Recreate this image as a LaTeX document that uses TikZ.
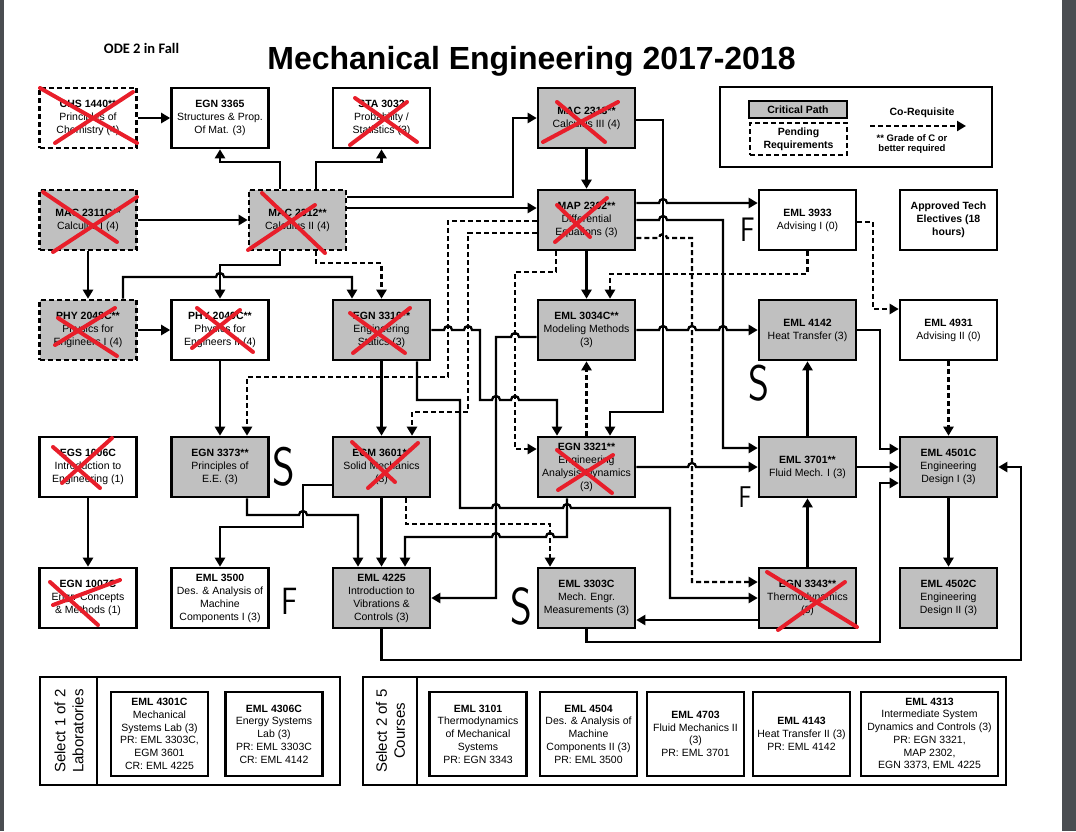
\documentclass[tikz,border=0pt]{standalone}
\usepackage{fontspec}
\setmainfont{Liberation Sans}
\newfontfamily\notefont{Carlito}
\usetikzlibrary{arrows.meta}
\definecolor{critgray}{RGB}{192,192,192}
\definecolor{penred}{RGB}{232,30,42}
\definecolor{framegray}{RGB}{74,77,81}
% line hops on horizontal runs
\newcommand{\hopr}[2]{-- ({#1-4},#2) arc[start angle=180,end angle=0,radius=4pt]}
\newcommand{\hopl}[2]{-- ({#1+4},#2) arc[start angle=0,end angle=180,radius=4pt]}

\begin{document}
\begin{tikzpicture}[x=1pt,y=-1pt,
    course/.style={draw,line width=2.6pt,minimum width=97pt,minimum height=60pt,inner sep=1pt,align=center,font=\fontsize{10.5}{13}\selectfont},
    crit/.style={course,fill=critgray},
    pend/.style={dash pattern=on 5pt off 3pt},
    elective/.style={course,minimum height=84pt,font=\fontsize{10.5}{12.7}\selectfont},
    panel/.style={draw,line width=2pt,minimum height=108pt,inner sep=0pt},
    pre/.style={line width=2.3pt,-{Triangle[length=9pt,width=10pt]}},
    coreq/.style={pre,dash pattern=on 5pt off 3pt},
    redx/.style={penred,line width=4pt,line cap=round},
    hand/.style={inner sep=0pt,xscale=0.8}]
  \useasboundingbox (0,0) rectangle (1076,831);
  \fill[white] (0,0) rectangle (1076,831);
  \fill[framegray] (0,0) rectangle (4,831);
  \fill[framegray] (1062,0) rectangle (1076,831);

  \node[font=\notefont\bfseries\fontsize{14.5}{16}\selectfont,anchor=base] (note) at (141.5,53) {ODE 2 in Fall};
  \node[font=\bfseries\fontsize{32}{36}\selectfont,anchor=base] (title) at (531.5,69) {Mechanical Engineering 2017-2018};

  % legend
  \node[draw,line width=1.8pt,minimum width=272pt,minimum height=80pt] (legend) at (856,127) {};
  \node[draw,line width=2.4pt,fill=critgray,minimum width=98pt,minimum height=17pt,inner sep=0pt,font=\bfseries\fontsize{10.5}{12}\selectfont] (keycrit) at (798,109.5) {Critical Path};
  \node[draw,pend,line width=2.4pt,minimum width=97pt,minimum height=32pt,inner sep=0pt,align=center,font=\bfseries\fontsize{10.5}{13}\selectfont] (keypend) at (798.5,139) {Pending\\Requirements};
  \node[font=\bfseries\fontsize{10.5}{12}\selectfont] (keyco) at (922,113) {Co-Requisite};
  \coordinate (keya) at (870,126);
  \coordinate (keyb) at (966,126);
  \draw[coreq] (keya) -- (keyb);
  \node[align=center,font=\bfseries\fontsize{9.5}{9.5}\selectfont] (keygrade) at (912,144) {** Grade of C or\\better required};

  % row 1
  \node[course,pend] (chs1440) at (88,118) {\textbf{CHS 1440**}\\Principles of\\Chemistry (4)};
  \node[course] (egn3365) at (220,118) {\textbf{EGN 3365}\\Structures \& Prop.\\Of Mat. (3)};
  \node[course] (sta3032) at (381.5,118) {\textbf{STA 3032}\\Probability /\\Statistics (3)};
  \node[crit] (mac2313) at (586.5,118) {\textbf{MAC 2313**}\\Calculus III (4)};
  % row 2
  \node[crit,pend] (mac2311) at (88,220) {\textbf{MAC 2311C**}\\Calculus I (4)};
  \node[crit,pend] (mac2312) at (297.5,220) {\textbf{MAC 2312**}\\Calculus II (4)};
  \node[crit] (map2302) at (586.5,220) {\textbf{MAP 2302**}\\Differential\\Equations (3)};
  \node[course] (eml3933) at (807.5,220) {\textbf{EML 3933}\\Advising I (0)};
  \node[course,font=\bfseries\fontsize{10.5}{13}\selectfont] (techelec) at (948.5,220) {Approved Tech\\Electives (18\\hours)};
  % row 3
  \node[crit,pend] (phy2048) at (88,330) {\textbf{PHY 2048C**}\\Physics for\\Engineers I (4)};
  \node[course] (phy2049) at (220,330) {\textbf{PHY 2049C**}\\Physics for\\Engineers II (4)};
  \node[crit] (egn3310) at (381.5,330) {\textbf{EGN 3310**}\\Engineering\\Statics (3)};
  \node[crit] (eml3034) at (586.5,330) {\textbf{EML 3034C**}\\Modeling Methods\\(3)};
  \node[crit] (eml4142) at (807.5,330) {\textbf{EML 4142}\\Heat Transfer (3)};
  \node[course] (eml4931) at (948.5,330) {\textbf{EML 4931}\\Advising II (0)};
  % row 4
  \node[course] (egs1006) at (88,467) {\textbf{EGS 1006C}\\Introduction to\\Engineering (1)};
  \node[crit] (egn3373) at (220,467) {\textbf{EGN 3373**}\\Principles of\\E.E. (3)};
  \node[crit] (egm3601) at (381.5,467) {\textbf{EGM 3601**}\\Solid Mechanics\\(3)};
  \node[crit] (egn3321) at (586.5,467) {\textbf{EGN 3321**}\\Engineering\\Analysis-Dynamics\\(3)};
  \node[crit] (eml3701) at (807.5,467) {\textbf{EML 3701**}\\Fluid Mech. I (3)};
  \node[crit] (eml4501) at (948.5,467) {\textbf{EML 4501C}\\Engineering\\Design I (3)};
  % row 5
  \node[course] (egn1007) at (88,598) {\textbf{EGN 1007C}\\Engr. Concepts\\\& Methods (1)};
  \node[course] (eml3500) at (220,598) {\textbf{EML 3500}\\Des. \& Analysis of\\Machine\\Components I (3)};
  \node[crit] (eml4225) at (381.5,598) {\textbf{EML 4225}\\Introduction to\\Vibrations \&\\Controls (3)};
  \node[crit] (eml3303) at (586.5,598) {\textbf{EML 3303C}\\Mech. Engr.\\Measurements (3)};
  \node[crit] (egn3343) at (807.5,598) {\textbf{EGN 3343**}\\Thermodynamics\\(3)};
  \node[crit] (eml4502) at (948.5,598) {\textbf{EML 4502C}\\Engineering\\Design II (3)};

  % prerequisites
  \draw[pre] (chs1440) -- (egn3365);
  \draw[pre] (mac2311) -- (mac2312);
  \draw[pre] (mac2311) -- (phy2048);
  \draw[pre] (phy2048) -- (phy2049);
  \draw[pre] ([xshift=-17.5pt]mac2312.north) -- (280,162) -| (egn3365);
  \draw[pre] ([xshift=18.5pt]mac2312.north) -- (316,162) -| (sta3032);
  \draw[pre] ([yshift=23pt]mac2312.east) -- (513,197) |- (mac2313);
  \draw[pre] ([yshift=12pt]mac2312.east) -- ([yshift=12pt]map2302.west);
  \draw[pre] (mac2313) -- (map2302);
  \draw[pre] ([yshift=-2pt]mac2313.east) -- (663,120) -- (663,412) -| ([xshift=23.5pt]egn3321.north);
  \draw[pre] ([yshift=17pt]map2302.east) \hopr{663}{203} -- ([yshift=17pt]eml3933.west);
  \draw[pre] (map2302.east) \hopr{663}{220} -- (723,220) |- ([yshift=19pt]eml3701.west);
  \draw[pre] (map2302) -- (eml3034);
  \draw[pre] ([xshift=-17.5pt]mac2312.south) -- (280,265) -| (phy2049);
  \draw[pre] ([xshift=35pt]phy2048.north) -- (123,277) \hopr{220}{277} -| ([xshift=-29.5pt]egn3310.north);
  \draw[pre] (phy2049) -- (egn3373);
  \draw[pre] (egn3310) -- (egm3601);
  \draw[pre] (egn3310.east) \hopr{448}{330} \hopr{468}{330} -- (480,330) -- (480,400) \hopr{496}{400} \hopr{515}{400} -| ([xshift=-29.5pt]egn3321.north);
  \draw[pre] ([xshift=35.5pt]egn3310.south) -- (417,400) -- (460,400) -- (460,508) \hopr{496}{508} \hopr{567}{508} -- (670,508) |- (egn3343);
  \draw[pre] ([xshift=-19.5pt]egn3321.south) -- (567,537) \hopl{550}{537} \hopl{496}{537} -| ([xshift=23.5pt]eml4225.north);
  \draw[pre] (egm3601) -- (eml4225);
  \draw[pre] ([yshift=-18pt]egm3601.west) -- (303,485) -- (303,527) -| (eml3500);
  \draw[pre] ([xshift=27pt]egn3373.south) -- (247,515) \hopr{303}{515} -| ([xshift=-23.5pt]eml4225.north);
  \draw[pre] ([yshift=-7pt]eml3034.west) \hopl{515}{337} -- (496,337) |- (eml4225);
  \draw[pre] (eml3034.east) \hopr{663}{330} \hopr{692}{330} \hopr{723}{330} -- (eml4142.west);
  \draw[pre] (egn3321.east) \hopr{692}{467} -- (eml3701.west);
  \draw[pre] (eml3701) -- (eml4142);
  \draw[pre] (eml3701) -- (eml4501);
  \draw[pre] (eml4142.east) -- (880,330) |- ([yshift=18pt]eml4501.west);
  \draw[pre] (egn3343) -- (eml3701);
  \draw[pre] ([yshift=-22pt]egn3343.west) -- ([yshift=-22pt]eml3303.east);
  \draw[pre] (eml3303.south) -- (586.5,642) -- (880,642) |- ([yshift=-16pt]eml4501.west);
  \draw[pre] (eml4225.south) -- (381.5,660) -- (1021,660) |- (eml4501);
  \draw[pre] (eml4501) -- (eml4502);
  \draw[pre] (egs1006) -- (egn1007);

  % co-requisites
  \draw[coreq] ([yshift=-1pt]map2302.west) -- (448,221) |- (247,377) -- ([xshift=27pt]egn3373.north);
  \draw[coreq] ([yshift=-13pt]map2302.west) -- (468,233) |- (412,412) -- ([xshift=30.5pt]egm3601.north);
  \draw[coreq] ([xshift=-30.5pt]map2302.south) -- (556,272) -- (515,272) |- ([yshift=18pt]egn3321.west);
  \draw[coreq] ([xshift=18.5pt]mac2312.south) -- (316,263) -| (egn3310);
  \draw[coreq] ([xshift=24.5pt]egm3601.south) -- (406,524) -| ([xshift=-36.5pt]eml3303.north);
  \draw[coreq] (egn3321) -- (eml3034);
  \draw[coreq] (eml3933.south) -- (807.5,274) -| ([xshift=23.5pt]eml3034.north);
  \draw[coreq] ([yshift=-18pt]map2302.east) \hopr{663}{238} -- (692,238) |- ([yshift=16pt]egn3343.west);
  \draw[coreq] ([yshift=-2pt]eml3933.east) -- (873,222) |- ([yshift=21pt]eml4931.west);
  \draw[coreq] (eml4931) -- (eml4501);

  % elective panels
  \node[panel,minimum width=300pt] (labpanel) at (190,731) {};
  \draw[line width=2pt] ([xshift=58pt]labpanel.north west) -- ([xshift=58pt]labpanel.south west);
  \node[rotate=90,align=center,font=\fontsize{15}{18}\selectfont] (labtitle) at (69,731) {Select 1 of 2\\Laboratories};
  \node[elective] (eml4301) at (159.5,734) {\textbf{EML 4301C}\\Mechanical\\Systems Lab (3)\\PR: EML 3303C,\\EGM 3601\\CR: EML 4225};
  \node[elective] (eml4306) at (274,734) {\textbf{EML 4306C}\\Energy Systems\\Lab (3)\\PR: EML 3303C\\CR: EML 4142};
  \node[panel,minimum width=643pt] (crspanel) at (684.5,731) {};
  \draw[line width=2pt] ([xshift=55pt]crspanel.north west) -- ([xshift=55pt]crspanel.south west);
  \node[rotate=90,align=center,font=\fontsize{15}{18}\selectfont] (crstitle) at (390.5,731) {Select 2 of 5\\Courses};
  \node[elective] (eml3101) at (478,734) {\textbf{EML 3101}\\Thermodynamics\\of Mechanical\\Systems\\PR: EGN 3343};
  \node[elective] (eml4504) at (588.5,734) {\textbf{EML 4504}\\Des. \& Analysis of\\Machine\\Components II (3)\\PR: EML 3500};
  \node[elective] (eml4703) at (695.5,734) {\textbf{EML 4703}\\Fluid Mechanics II\\(3)\\PR: EML 3701};
  \node[elective] (eml4143) at (801.5,734) {\textbf{EML 4143}\\Heat Transfer II (3)\\PR: EML 4142};
  \node[elective,minimum width=137pt] (eml4313) at (929.5,734) {\textbf{EML 4313}\\Intermediate System\\Dynamics and Controls (3)\\PR: EGN 3321,\\MAP 2302,\\EGN 3373, EML 4225};

  % hand marks
  \foreach \ax/\ay/\bx/\by/\cx/\cy/\dx/\dy in {40/88/137/143/55/143/133/92, 43/192/117/242/53/252/137/197,
      262/193/325/253/248/250/315/205, 355/98/417/142/350/145/407/102, 557/102/605/142/543/142/618/102,
      557/205/590/237/555/242/607/198, 58/318/117/356/55/345/115/308, 197/308/253/352/192/348/240/310,
      350/313/405/353/353/353/410/308, 53/447/100/488/62/483/112/438, 352/442/395/482/368/488/418/443,
      557/450/612/493/558/490/613/455, 50/582/98/625/53/605/120/580, 767/572/857/627/778/630/845/582}
    \draw[redx] (\ax,\ay) -- (\bx,\by) (\cx,\cy) -- (\dx,\dy);
  \node[hand,font=\sffamily\fontsize{34}{34}\selectfont] (f3933) at (748,230) {F};
  \node[hand,font=\sffamily\fontsize{30}{30}\selectfont] (f3701) at (745,497) {F};
  \node[hand,font=\sffamily\fontsize{38}{38}\selectfont] (f3500) at (290,601) {F};
  \node[hand,font=\sffamily\fontsize{54}{54}\selectfont] (s3373) at (284,467) {S};
  \node[hand,font=\sffamily\fontsize{50}{50}\selectfont] (s4142) at (759,383) {S};
  \node[hand,font=\sffamily\fontsize{52}{52}\selectfont] (s3303) at (521,606) {S};
\end{tikzpicture}
\end{document}
